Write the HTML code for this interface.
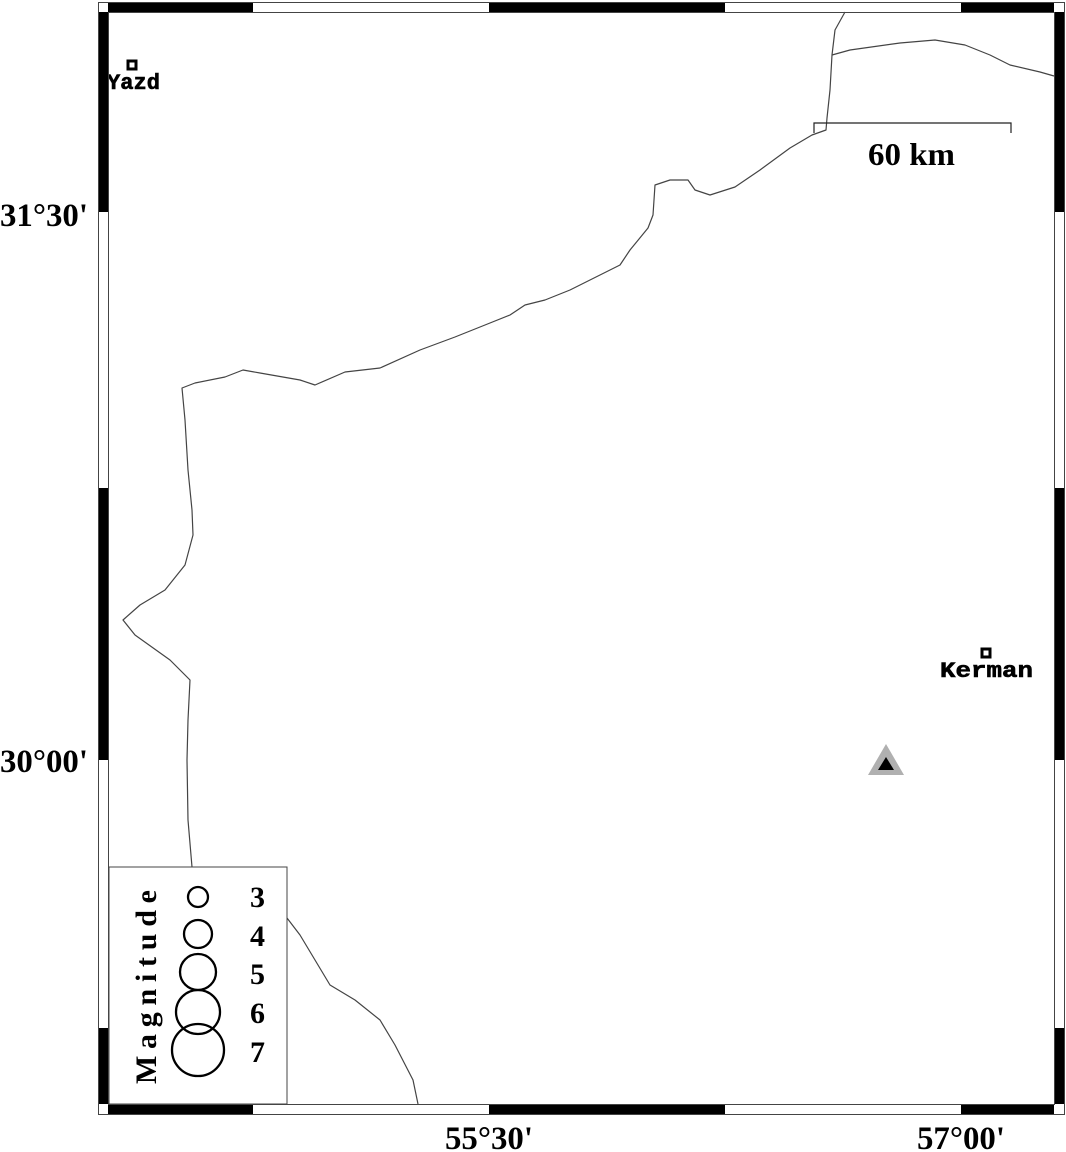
<!DOCTYPE html>
<html><head><meta charset="utf-8"><style>
html,body{margin:0;padding:0;background:#fff;}
svg{display:block;}
</style></head><body>
<svg width="1066" height="1152" viewBox="0 0 1066 1152" xmlns="http://www.w3.org/2000/svg">
<rect width="1066" height="1152" fill="#fff"/>
<g fill="none" stroke="#444" stroke-width="1.2" stroke-linejoin="round">
<polyline points="845,12 835,30 832,55 830,90 827,118 826,130 812,135 790,148 760,170 735,187 710,195 695,190 688,180 670,180 655,185 653,215 648,228 630,250 620,265 600,275 570,290 545,300 525,305 510,315 485,325 455,337 420,350 380,368 345,372 315,385 300,380 260,373 243,370 225,377 195,383 182,388 185,420 188,470 192,510 193,535 185,565 165,590 140,605 123,620 135,635 170,660 190,680 188,720 187,760 188,820 192,867"/>
<polyline points="832,55 850,50 900,43 935,40 965,45 990,55 1010,65 1040,72 1054,76"/>
<polyline points="287,918 300,935 318,965 330,985 355,1000 380,1020 395,1045 413,1080 418,1104"/>
</g>
<polyline points="814,133 814,123 1011,123 1011,133" fill="none" stroke="#222" stroke-width="1.2"/>
<text x="868" y="165" textLength="87" lengthAdjust="spacingAndGlyphs" font-family="Liberation Serif, serif" font-weight="bold" font-size="32">60 km</text>
<rect x="982" y="649" width="8" height="8" fill="#fff" stroke="#000" stroke-width="3"/>
<text x="940" y="677" textLength="93" lengthAdjust="spacingAndGlyphs" font-family="Liberation Mono, monospace" font-weight="bold" font-size="22" stroke="#000" stroke-width="0.6">Kerman</text>
<rect x="128" y="61" width="8" height="8" fill="#fff" stroke="#000" stroke-width="3"/>
<text x="107" y="89" textLength="53" lengthAdjust="spacingAndGlyphs" font-family="Liberation Mono, monospace" font-weight="bold" font-size="22" stroke="#000" stroke-width="0.6">Yazd</text>
<polygon points="886,744 904,775 868,775" fill="#b0b0b0"/>
<polygon points="886,757 894,770 878,770" fill="#000"/>
<rect x="109" y="867" width="178" height="237" fill="#fff" stroke="#444" stroke-width="1"/>
<g fill="none" stroke="#000" stroke-width="2.3">
<circle cx="198" cy="897" r="10"/>
<circle cx="198" cy="934" r="14"/>
<circle cx="198" cy="972" r="18"/>
<circle cx="198" cy="1012" r="22"/>
<circle cx="198" cy="1050" r="26"/>
</g>
<g font-family="Liberation Serif, serif" font-weight="bold" font-size="30">
<text x="250" y="907">3</text>
<text x="250" y="946">4</text>
<text x="250" y="984">5</text>
<text x="250" y="1023">6</text>
<text x="250" y="1062">7</text>
</g>
<text transform="translate(156,1084) rotate(-90)" textLength="194" lengthAdjust="spacing" font-family="Liberation Serif, serif" font-weight="bold" font-size="30">Magnitude</text>
<rect x="98.5" y="2.5" width="966" height="1112" fill="none" stroke="#444" stroke-width="1"/>
<rect x="108.5" y="12.5" width="946" height="1092" fill="none" stroke="#444" stroke-width="1"/>
<g fill="#000">
<rect x="108" y="3" width="145" height="9"/>
<rect x="489" y="3" width="236" height="9"/>
<rect x="961" y="3" width="93" height="9"/>
<rect x="108" y="1105" width="145" height="9"/>
<rect x="489" y="1105" width="236" height="9"/>
<rect x="961" y="1105" width="93" height="9"/>
<rect x="99" y="12" width="9" height="200"/>
<rect x="99" y="488" width="9" height="272"/>
<rect x="99" y="1028" width="9" height="76"/>
<rect x="1055" y="12" width="9" height="200"/>
<rect x="1055" y="488" width="9" height="272"/>
<rect x="1055" y="1028" width="9" height="76"/>
</g>
<g font-family="Liberation Serif, serif" font-weight="bold" font-size="33">
<text x="0" y="226" textLength="88" lengthAdjust="spacingAndGlyphs">31°30'</text>
<text x="0" y="772" textLength="88" lengthAdjust="spacingAndGlyphs">30°00'</text>
<text x="445" y="1149" textLength="88" lengthAdjust="spacingAndGlyphs">55°30'</text>
<text x="917" y="1149" textLength="88" lengthAdjust="spacingAndGlyphs">57°00'</text>
</g>
</svg>
</body></html>
